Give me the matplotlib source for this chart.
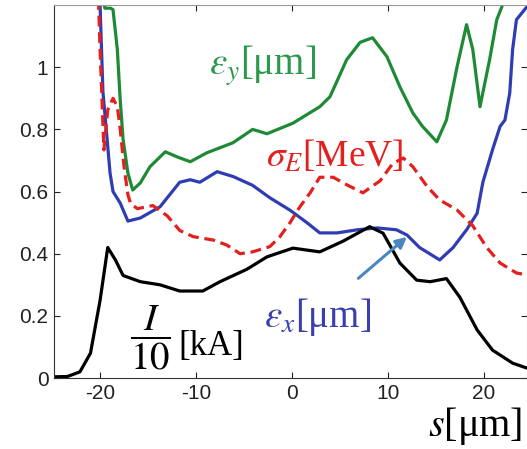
import matplotlib
matplotlib.use("Agg")
import matplotlib.pyplot as plt

# Slice position s [um] and slice quantities
s_I = [-24.8, -23.4, -22.1, -21.0, -20.0, -19.2, -18.4, -17.6, -15.8, -13.75, -11.7,
       -9.3, -7.5, -4.7, -2.6, 0.1, 2.9, 5.3, 8.1, 9.5, 11.25, 13.0, 14.4, 16.1,
       17.5, 19.3, 20.9, 23.0, 24.5]
current = [0.004, 0.005, 0.02, 0.08, 0.25, 0.42, 0.38, 0.33, 0.31, 0.30, 0.28,
           0.28, 0.31, 0.35, 0.39, 0.418, 0.406, 0.44, 0.487, 0.466, 0.37, 0.315,
           0.31, 0.32, 0.26, 0.155, 0.09, 0.048, 0.032]

s_ex = [-20.4, -20.0, -19.7, -19.27, -18.96, -18.65, -17.9, -17.1, -15.8, -13.75,
        -11.7, -10.6, -9.6, -7.8, -6.1, -4.1, -2.3, -0.2, 1.56, 2.9, 4.7, 6.8, 8.9,
        10.9, 12.0, 13.3, 15.4, 16.8, 18.2, 19.3, 19.9, 20.9, 21.7, 22.2, 22.7,
        23.0, 23.4, 24.5]
emit_x = [1.30, 1.20, 0.92, 0.77, 0.66, 0.60, 0.563, 0.505, 0.515, 0.551, 0.63,
          0.638, 0.63, 0.664, 0.648, 0.62, 0.58, 0.54, 0.50, 0.467, 0.467, 0.477,
          0.483, 0.477, 0.46, 0.42, 0.38, 0.42, 0.477, 0.53, 0.63, 0.734, 0.81,
          0.83, 0.917, 1.057, 1.153, 1.195]

s_ey = [-19.8, -19.5, -18.9, -18.65, -18.2, -17.9, -17.6, -17.1, -16.6, -15.8,
        -14.8, -13.2, -12.0, -10.6, -8.85, -6.15, -4.1, -2.6, 0.1, 2.9, 3.96, 5.7,
        7.1, 8.4, 9.9, 11.25, 12.6, 13.6, 15.1, 16.1, 17.2, 18.2, 18.85, 19.6,
        20.6, 21.35, 22.2]
emit_y = [1.25, 1.19, 1.19, 1.185, 1.057, 0.895, 0.767, 0.66, 0.605, 0.628, 0.68,
          0.728, 0.712, 0.696, 0.725, 0.757, 0.80, 0.786, 0.82, 0.873, 0.905,
          1.024, 1.08, 1.095, 1.034, 0.937, 0.853, 0.81, 0.76, 0.83, 1.0, 1.137,
          1.057, 0.873, 1.024, 1.153, 1.22]

s_sE = [-20.2, -20.0, -19.8, -19.6, -19.2, -18.65, -18.2, -17.9, -17.5, -17.1,
        -16.8, -16.1, -14.5, -13.0, -11.7, -10.3, -8.2, -6.8, -5.4, -4.1, -2.3,
        -1.25, -0.2, 0.83, 1.9, 2.9, 4.3, 5.7, 7.4, 9.2, 10.5, 11.6, 12.6, 14.1,
        15.4, 17.2, 18.85, 20.3, 21.7, 23.4, 24.5]
sigma_E = [1.25, 1.057, 0.895, 0.734, 0.863, 0.90, 0.873, 0.80, 0.68, 0.59, 0.56,
           0.545, 0.555, 0.522, 0.475, 0.455, 0.444, 0.428, 0.40, 0.406, 0.423,
           0.455, 0.50, 0.551, 0.596, 0.646, 0.646, 0.622, 0.596, 0.635, 0.69,
           0.708, 0.68, 0.616, 0.573, 0.541, 0.49, 0.42, 0.37, 0.338, 0.332]

x_ticks = [-20, -10, 0, 10, 20]
y_ticks = [0, 0.2, 0.4, 0.6, 0.8, 1.0]
y_tick_labels = ["0", "0.2", "0.4", "0.6", "0.8", "1"]

plt.rcParams["mathtext.fontset"] = "stix"

fig = plt.figure(figsize=(5.27, 4.49), dpi=100)
ax = fig.add_axes([0.1025, 0.158, 0.8975, 0.8307])

lw = 2.3
ax.plot(s_ey, emit_y, color="#1f8a35", lw=lw)
ax.plot(s_ex, emit_x, color="#2f3db3", lw=lw)
ax.plot(s_sE, sigma_E, color="#e3201e", lw=lw, ls=(0, (3.4, 1.8)))
ax.plot(s_I, current, color="black", lw=lw)

ax.set_xlim(-24.8, 24.5)
ax.set_ylim(0, 1.2)
ax.set_xticks(x_ticks)
ax.set_xticklabels([str(t) for t in x_ticks])
ax.set_yticks(y_ticks)
ax.set_yticklabels(y_tick_labels)
ax.tick_params(direction="in", length=4, width=0.8, top=True, right=True,
               labelsize=15, pad=4, colors="#222222")
for lab in ax.get_xticklabels() + ax.get_yticklabels():
    lab.set_fontfamily("Liberation Sans")
for side in ["left", "bottom"]:
    ax.spines[side].set_color("#333333")
for side in ["top", "right"]:
    ax.spines[side].set_color("#999999")

serif = "Liberation Serif"
fs = 28
ax.text(-8.6, 0.976, r"$\varepsilon_y$[μm]", color="#2a9a4a", fontsize=fs,
        family=serif, ha="left", va="baseline")
ax.text(-2.7, 0.68, r"$\sigma_E$[MeV]", color="#e3201e", fontsize=fs - 1,
        family=serif, ha="left", va="baseline")
ax.text(-2.9, 0.164, r"$\varepsilon_x$[μm]", color="#3a3fae", fontsize=fs,
        family=serif, ha="left", va="baseline")
ax.text(-14.8, 0.129, r"$\dfrac{I}{10}$", color="black", fontsize=fs,
        family=serif, ha="center", va="center")
ax.text(-11.8, 0.074, "[kA]", color="black", fontsize=fs - 3,
        family=serif, ha="left", va="baseline")
fig.text(0.812, 0.03, r"$s$[μm]", color="black", fontsize=fs + 1,
         family=serif, ha="left", va="baseline")

ax.annotate("", xy=(12.2, 0.46), xytext=(6.7, 0.315),
            arrowprops=dict(arrowstyle="-|>", color="#4a86c0", lw=2.2,
                            mutation_scale=16))

fig.savefig("out.png", dpi=100)
